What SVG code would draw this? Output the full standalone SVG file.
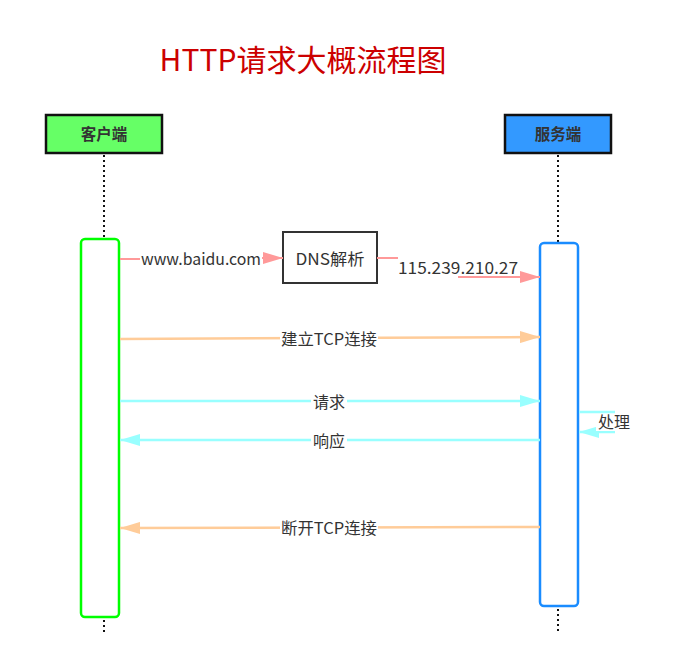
<svg xmlns="http://www.w3.org/2000/svg" width="681" height="650" viewBox="0 0 681 650">
<style>
.lbl{font-family:"Noto Sans CJK SC","Noto Sans",sans-serif;font-size:16px;fill:#333;text-anchor:middle}
.hd{font-family:"Noto Sans CJK SC",sans-serif;font-size:15.5px;font-weight:bold;fill:#333;text-anchor:middle}
.life{stroke:#111;stroke-width:2;stroke-dasharray:2 3;fill:none}
.pink{stroke:#ff9999;stroke-width:2;fill:none}
.orange{stroke:#ffcc99;stroke-width:2.5;fill:none}
.cyan{stroke:#99ffff;stroke-width:2.5;fill:none}
</style>
<defs>
<marker id="mPink" viewBox="0 0 20 12" refX="20" refY="6" markerWidth="20" markerHeight="12" markerUnits="userSpaceOnUse" orient="auto"><path d="M0,0 L20,6 L0,12 Z" fill="#ff9999"/></marker>
<marker id="mOrange" viewBox="0 0 20 12" refX="20" refY="6" markerWidth="20" markerHeight="12" markerUnits="userSpaceOnUse" orient="auto"><path d="M0,0 L20,6 L0,12 Z" fill="#ffcc99"/></marker>
<marker id="mCyan" viewBox="0 0 20 12" refX="20" refY="6" markerWidth="20" markerHeight="12" markerUnits="userSpaceOnUse" orient="auto"><path d="M0,0 L20,6 L0,12 Z" fill="#99ffff"/></marker>
</defs>
<rect width="681" height="650" fill="#fff"/>
<text x="303" y="71" font-family="'Noto Sans CJK SC',sans-serif" font-size="30" fill="#cc0000" text-anchor="middle">HTTP请求大概流程图</text>

<g id="lifelines">
<line class="life" x1="104" y1="155" x2="104" y2="238"/>
<line class="life" x1="104" y1="620" x2="104" y2="634"/>
<line class="life" x1="558" y1="155" x2="558" y2="242"/>
<line class="life" x1="558" y1="609" x2="558" y2="634"/>
</g>

<g id="client">
<rect x="46" y="115" width="116" height="38" fill="#66ff66" stroke="#111" stroke-width="2.5"/>
<text class="hd" x="104" y="140">客户端</text>
</g>
<g id="server">
<rect x="505" y="115" width="106" height="38" fill="#3399ff" stroke="#111" stroke-width="2.5"/>
<text class="hd" x="558" y="140">服务端</text>
</g>
<g id="client-activation">
<rect x="81" y="239" width="38" height="378" rx="4" fill="#fff" stroke="#00ff00" stroke-width="2.5"/>
</g>
<g id="server-activation">
<rect x="540" y="243" width="38" height="363" rx="4" fill="#fff" stroke="#1a8cff" stroke-width="2.5"/>
</g>
<g id="dns">
<rect x="283" y="232" width="94" height="51" fill="#fff" stroke="#333" stroke-width="2"/>
<text class="lbl" x="330" y="265" textLength="69" lengthAdjust="spacingAndGlyphs">DNS解析</text>
</g>

<g id="connectors">
<line class="pink" x1="120" y1="259" x2="140" y2="259"/>
<line class="pink" x1="262" y1="258" x2="283" y2="258" marker-end="url(#mPink)"/>
<text class="lbl" x="201" y="265" textLength="120" lengthAdjust="spacingAndGlyphs">www.baidu.com</text>

<line class="pink" x1="377" y1="258" x2="398" y2="258"/>
<line class="pink" x1="458" y1="277" x2="540" y2="277" marker-end="url(#mPink)"/>
<text class="lbl" x="458" y="274" textLength="120" lengthAdjust="spacingAndGlyphs">115.239.210.27</text>

<line class="orange" x1="120" y1="339" x2="540" y2="337" marker-end="url(#mOrange)"/>
<rect x="280" y="329" width="98" height="20" fill="#fff"/>
<text class="lbl" x="329" y="345" textLength="96" lengthAdjust="spacingAndGlyphs">建立TCP连接</text>

<line class="cyan" x1="120" y1="401" x2="540" y2="401" marker-end="url(#mCyan)"/>
<rect x="311" y="392" width="36" height="20" fill="#fff"/>
<text class="lbl" x="329" y="408">请求</text>

<line class="cyan" x1="540" y1="440" x2="120" y2="440" marker-end="url(#mCyan)"/>
<rect x="311" y="431" width="36" height="20" fill="#fff"/>
<text class="lbl" x="329" y="447">响应</text>

<line class="cyan" x1="579" y1="412" x2="615" y2="412"/>
<line class="cyan" x1="615" y1="432" x2="579" y2="432" marker-end="url(#mCyan)"/>
<rect x="596" y="414" width="36" height="17" fill="#fff"/>
<text class="lbl" x="614" y="428">处理</text>

<line class="orange" x1="540" y1="527" x2="120" y2="528" marker-end="url(#mOrange)"/>
<rect x="280" y="518" width="98" height="20" fill="#fff"/>
<text class="lbl" x="329" y="534" textLength="96" lengthAdjust="spacingAndGlyphs">断开TCP连接</text>
</g>
</svg>
